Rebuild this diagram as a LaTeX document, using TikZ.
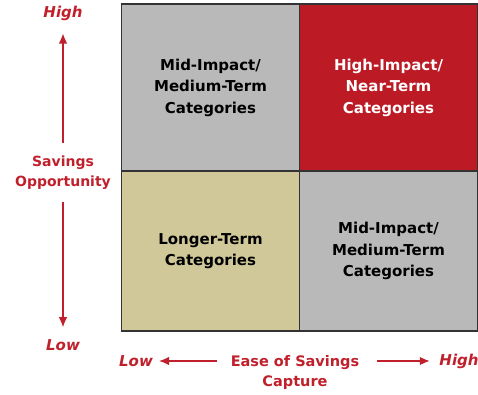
\documentclass[tikz,border=0pt]{standalone}
\usepackage{fontspec}
\setmainfont{DejaVu Sans}
\usetikzlibrary{positioning, arrows.meta}

\definecolor{quadgray}{HTML}{B9B9B9}
\definecolor{quadred}{HTML}{BC1A24}
\definecolor{quadtan}{HTML}{D0C898}
\definecolor{gridline}{HTML}{333333}
\definecolor{axisred}{HTML}{C0202C}

\tikzset{
    quad/.style={draw=gridline, line width=1.2pt, minimum width=178pt, inner sep=0pt, outer sep=0pt, align=center, font=\bfseries\fontsize{15}{21.5}\selectfont},
    axislabel/.style={text=axisred, align=center, inner sep=0pt, font=\bfseries\fontsize{14}{20}\selectfont},
    endlabel/.style={axislabel, font=\bfseries\itshape\fontsize{15}{20}\selectfont},
    axisarrow/.style={-{Latex[length=10pt,width=8.5pt]}, draw=axisred, line width=1.2pt}
}

\begin{document}
\begin{tikzpicture}[x=1pt, y=-1pt]
    \useasboundingbox (0,0) rectangle (478,395);

    % Quadrants
    \node[quad, fill=quadgray, minimum height=167pt] (mid_top) at (210.5,87.5) {Mid-Impact/\\Medium-Term\\Categories};
    \node[quad, fill=quadred, text=white, minimum height=167pt, right=0pt of mid_top] (high_near) {High-Impact/\\Near-Term\\Categories};
    \node[quad, fill=quadtan, minimum height=160pt, below=0pt of mid_top] (longer) {Longer-Term\\Categories};
    \node[quad, fill=quadgray, minimum height=160pt, right=0pt of longer] (mid_bottom) {Mid-Impact/\\Medium-Term\\Categories};

    % Vertical axis
    \node[endlabel] (sav_high) at (63,13) {High};
    \node[axislabel] (sav_label) at (63,173) {Savings\\Opportunity};
    \node[endlabel] (sav_low) at (63,345) {Low};
    \draw[axisarrow, shorten <=13pt, shorten >=13pt] (sav_label) -- (sav_high);
    \draw[axisarrow, shorten <=12pt, shorten >=12pt] (sav_label) -- (sav_low);

    % Horizontal axis
    \node[endlabel] (cap_low) at (136,361) {Low};
    \node[axislabel, font=\bfseries\fontsize{14.5}{20}\selectfont] (cap_label) at (295,372) {Ease of Savings\\Capture};
    \node[endlabel] (cap_high) at (459,361) {High};
    \draw[axisarrow, shorten <=13.5pt, shorten >=6pt] (cap_label.west |- cap_low) -- (cap_low);
    \draw[axisarrow, shorten <=17.5pt, shorten >=9.5pt] (cap_label.east |- cap_high) -- (cap_high);
\end{tikzpicture}
\end{document}
